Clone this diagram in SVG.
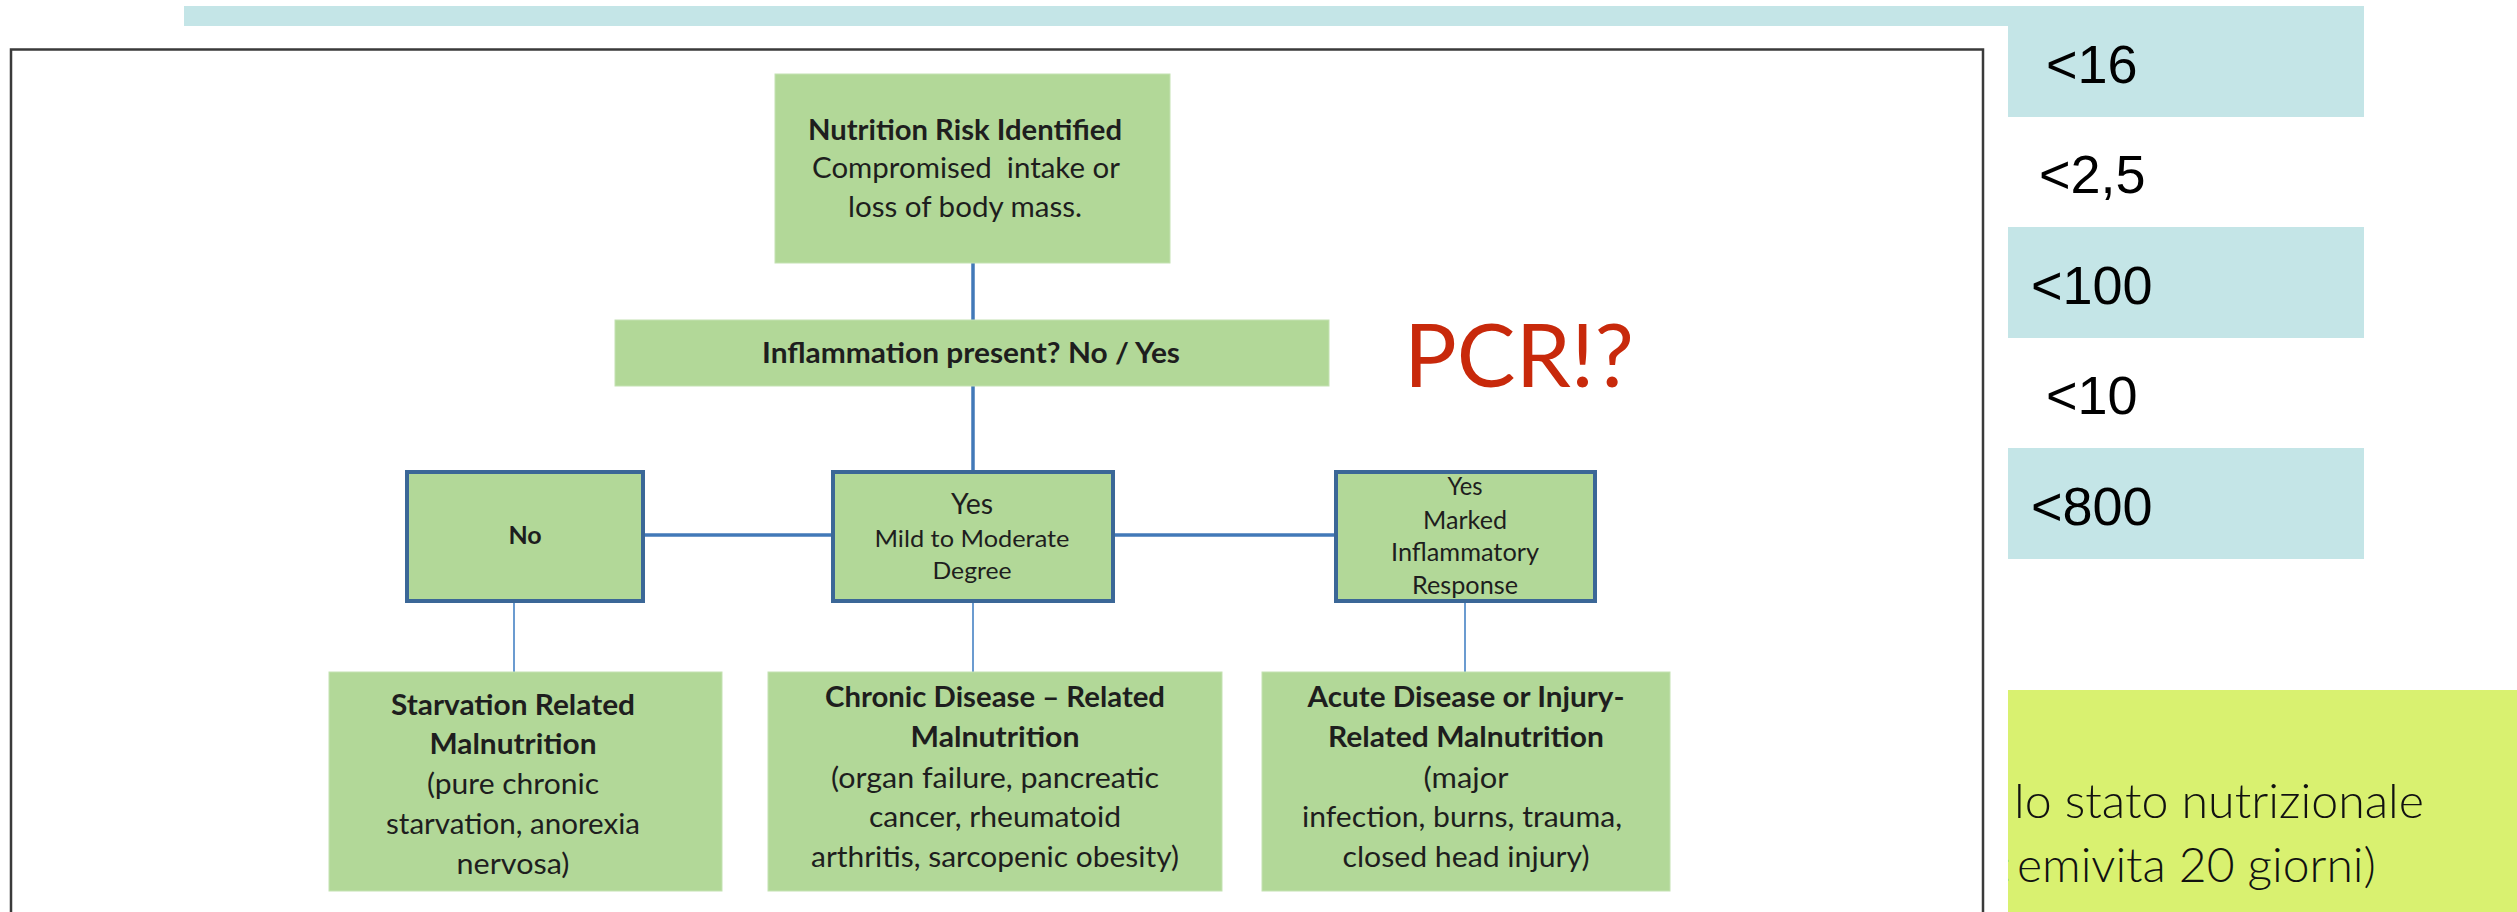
<svg xmlns="http://www.w3.org/2000/svg" width="2517" height="912" viewBox="0 0 2517 912">
  <style>
    .box { fill: #b2d898; stroke: #c4e2b2; stroke-width: 1; }
    .bbox { fill: #b2d898; stroke: #3b6797; stroke-width: 4; }
    .t { font-family: Lato, "Open Sans", sans-serif; fill: #1e1e1e; text-anchor: middle; }
    .b { font-weight: bold; }
    .teal { fill: #c4e5e7; }
    .val { font-family: "Liberation Sans", Arial, sans-serif; font-size: 54px; fill: #000; }
    .note { font-family: Lato, "Open Sans", sans-serif; font-size: 48px; font-weight: 300; fill: #111; }
    .thick { stroke: #4279b8; stroke-width: 3.5; fill: none; }
    .thin { stroke: #6b9bd0; stroke-width: 2; fill: none; }
  </style>
  <defs>
    <clipPath id="ybox-clip"><rect x="2008" y="690" width="509" height="222"/></clipPath>
  </defs>

  <rect width="2517" height="912" fill="#ffffff"/>

  <!-- slide background table -->
  <g id="value-table">
    <rect class="teal" x="184" y="6" width="2180" height="20"/>
    <rect class="teal" x="2008" y="6" width="356" height="111"/>
    <rect class="teal" x="2008" y="227" width="356" height="111"/>
    <rect class="teal" x="2008" y="448" width="356" height="111"/>
    <text class="val" x="2046" y="83">&lt;16</text>
    <text class="val" x="2039" y="193">&lt;2,5</text>
    <text class="val" x="2031" y="304">&lt;100</text>
    <text class="val" x="2046" y="414">&lt;10</text>
    <text class="val" x="2031" y="525">&lt;800</text>
  </g>

  <g id="note-box">
    <rect x="2008" y="690" width="509" height="222" fill="#d9f170"/>
    <g clip-path="url(#ybox-clip)">
      <text class="note" x="2014" y="818" textLength="410" lengthAdjust="spacingAndGlyphs">lo stato nutrizionale</text>
      <text class="note" y="882"><tspan x="2000">:</tspan><tspan x="2017">emivita 20 giorni)</tspan></text>
    </g>
  </g>

  <!-- picture frame -->
  <rect id="frame" x="11" y="49.5" width="1972" height="900" fill="#ffffff" stroke="#3a3a3a" stroke-width="2.5"/>

  <text id="pcr" x="1404" y="387" font-family="Lato, 'Open Sans', sans-serif" font-size="88" fill="#c8290b">PCR!?</text>

  <!-- connectors -->
  <g id="connectors">
    <line class="thick" x1="973" y1="263" x2="973" y2="320"/>
    <line class="thick" x1="973" y1="386" x2="973" y2="470"/>
    <line class="thick" x1="645" y1="535" x2="831" y2="535"/>
    <line class="thick" x1="1114" y1="535" x2="1334" y2="535"/>
    <line class="thin" x1="514" y1="602" x2="514" y2="672"/>
    <line class="thin" x1="973" y1="602" x2="973" y2="672"/>
    <line class="thin" x1="1465" y1="602" x2="1465" y2="672"/>
  </g>

  <g id="risk">
    <rect class="box" x="775" y="74" width="395" height="189"/>
    <text class="t b" x="965" y="140" font-size="28" textLength="314" lengthAdjust="spacingAndGlyphs">Nutrition Risk Identified</text>
    <text class="t" x="966" y="178" font-size="28" textLength="308" lengthAdjust="spacingAndGlyphs" xml:space="preserve">Compromised  intake or</text>
    <text class="t" x="965" y="217" font-size="28" textLength="234" lengthAdjust="spacingAndGlyphs">loss of body mass.</text>
  </g>

  <g id="inflammation">
    <rect class="box" x="615" y="320" width="714" height="66"/>
    <text class="t b" x="971" y="363" font-size="28" textLength="418" lengthAdjust="spacingAndGlyphs">Inflammation present? No / Yes</text>
  </g>

  <g id="no">
    <rect class="bbox" x="407" y="472" width="236" height="129"/>
    <text class="t b" x="525" y="544" font-size="25">No</text>
  </g>

  <g id="mild">
    <rect class="bbox" x="833" y="472" width="280" height="129"/>
    <text class="t" x="972" y="514" font-size="29" textLength="42" lengthAdjust="spacingAndGlyphs">Yes</text>
    <text class="t" x="972" y="547" font-size="24" textLength="195" lengthAdjust="spacingAndGlyphs">Mild to Moderate</text>
    <text class="t" x="972" y="579" font-size="24" textLength="79" lengthAdjust="spacingAndGlyphs">Degree</text>
  </g>

  <g id="marked">
    <rect class="bbox" x="1336" y="472" width="259" height="129"/>
    <text class="t" x="1465" y="495" font-size="25" textLength="35" lengthAdjust="spacingAndGlyphs">Yes</text>
    <text class="t" x="1465" y="529" font-size="25" textLength="84" lengthAdjust="spacingAndGlyphs">Marked</text>
    <text class="t" x="1465" y="561" font-size="25" textLength="148" lengthAdjust="spacingAndGlyphs">Inflammatory</text>
    <text class="t" x="1465" y="594" font-size="25" textLength="106" lengthAdjust="spacingAndGlyphs">Response</text>
  </g>

  <g id="starvation">
    <rect class="box" x="329" y="672" width="393" height="219"/>
    <text class="t b" x="513" y="715" font-size="29" textLength="244" lengthAdjust="spacingAndGlyphs">Starvation Related</text>
    <text class="t b" x="513" y="754" font-size="29" textLength="167" lengthAdjust="spacingAndGlyphs">Malnutrition</text>
    <text class="t" x="513" y="794" font-size="28" textLength="172" lengthAdjust="spacingAndGlyphs">(pure chronic</text>
    <text class="t" x="513" y="834" font-size="28" textLength="254" lengthAdjust="spacingAndGlyphs">starvation, anorexia</text>
    <text class="t" x="513" y="874" font-size="28" textLength="113" lengthAdjust="spacingAndGlyphs">nervosa)</text>
  </g>

  <g id="chronic">
    <rect class="box" x="768" y="672" width="454" height="219"/>
    <text class="t b" x="995" y="707" font-size="29" textLength="340" lengthAdjust="spacingAndGlyphs">Chronic Disease – Related</text>
    <text class="t b" x="995" y="747" font-size="29" textLength="169" lengthAdjust="spacingAndGlyphs">Malnutrition</text>
    <text class="t" x="995" y="788" font-size="28" textLength="328" lengthAdjust="spacingAndGlyphs">(organ failure, pancreatic</text>
    <text class="t" x="995" y="827" font-size="28" textLength="252" lengthAdjust="spacingAndGlyphs">cancer, rheumatoid</text>
    <text class="t" x="995" y="867" font-size="28" textLength="368" lengthAdjust="spacingAndGlyphs">arthritis, sarcopenic obesity)</text>
  </g>

  <g id="acute">
    <rect class="box" x="1262" y="672" width="408" height="219"/>
    <text class="t b" x="1466" y="707" font-size="29" textLength="317" lengthAdjust="spacingAndGlyphs">Acute Disease or Injury-</text>
    <text class="t b" x="1466" y="747" font-size="29" textLength="276" lengthAdjust="spacingAndGlyphs">Related Malnutrition</text>
    <text class="t" x="1466" y="788" font-size="28" textLength="85" lengthAdjust="spacingAndGlyphs">(major</text>
    <text class="t" x="1462" y="827" font-size="28" textLength="320" lengthAdjust="spacingAndGlyphs">infection, burns, trauma,</text>
    <text class="t" x="1466" y="867" font-size="28" textLength="247" lengthAdjust="spacingAndGlyphs">closed head injury)</text>
  </g>
</svg>
